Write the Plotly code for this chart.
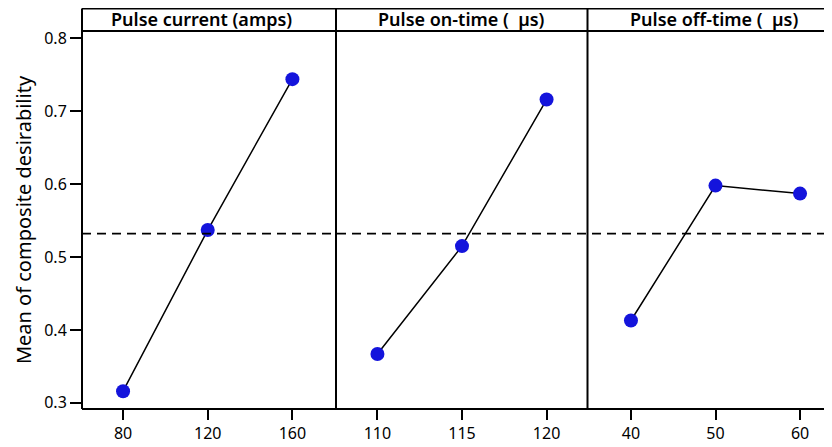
import plotly.graph_objects as go

# Data
factors = ["Pulse current (amps)", "Pulse on-time (  µs)", "Pulse off-time (  µs)"]
levels_current = [80, 120, 160]
means_current = [0.316, 0.537, 0.744]
levels_on = [110, 115, 120]
means_on = [0.367, 0.515, 0.716]
levels_off = [40, 50, 60]
means_off = [0.413, 0.598, 0.587]
overall_mean = 0.532
y_ticks = [0.3, 0.4, 0.5, 0.6, 0.7, 0.8]

# page body has an 8px margin, so the figure is 8px smaller and everything shifted
OFF = 8
W, H = 832 - OFF, 447 - OFF
ML, MR, MT, MB = 82 - OFF, 0, 31 - OFF, 447 - 409
pw = W - ML - MR
ph = H - MT - MB

d1 = (336 - 82) / pw
d2 = (587.5 - 82) / pw
doms = [(0, d1), (d1, d2), (d2, 1.0)]
ranges = [(60.6, 180.6), (107.55, 122.42), (34.86, 63.78)]
series = [(levels_current, means_current), (levels_on, means_on), (levels_off, means_off)]
header_centers_px = [201.5, 461, 714]

font = "Noto Sans"
fig = go.Figure()
for i, (xs, ys) in enumerate(series):
    fig.add_trace(go.Scatter(
        x=xs, y=ys, mode="lines+markers",
        xaxis="x" if i == 0 else f"x{i+1}", yaxis="y",
        line=dict(color="black", width=1.5),
        marker=dict(color="#1414DC", size=14, line=dict(width=0)),
        showlegend=False, cliponaxis=False,
    ))

layout = dict(
    width=W, height=H,
    margin=dict(l=ML, r=MR, t=MT, b=MB),
    plot_bgcolor="white", paper_bgcolor="white",
    font=dict(family=font, color="black", size=16),
    yaxis=dict(range=[0.2916, 0.810], tickvals=y_ticks, ticktext=[f"{v:.1f}" for v in y_ticks],
               showgrid=False, zeroline=False, showline=False,
               ticks="outside", ticklen=11, tickwidth=2, tickcolor="black",
               tickfont=dict(size=16, family=font),
               title=dict(text="Mean of composite desirability", font=dict(size=20, family=font), standoff=7)),
)
for i in range(3):
    key = "xaxis" if i == 0 else f"xaxis{i+1}"
    layout[key] = dict(
        domain=list(doms[i]), range=list(ranges[i]), anchor="y",
        tickvals=series[i][0], ticktext=[str(v) for v in series[i][0]],
        showgrid=False, zeroline=False, showline=False,
        ticks="outside", ticklen=10, tickwidth=2, tickcolor="black",
        tickfont=dict(size=16, family=font),
    )
fig.update_layout(**layout)

top = 1 + (MT - 0.5) / ph
shapes = []
lw = 2
shapes.append(dict(type="line", xref="paper", yref="paper", x0=0, x1=0, y0=0, y1=top, line=dict(color="black", width=lw)))
shapes.append(dict(type="line", xref="paper", yref="paper", x0=0, x1=1, y0=0, y1=0, line=dict(color="black", width=lw)))
shapes.append(dict(type="line", xref="paper", yref="paper", x0=0, x1=1, y0=top, y1=top, line=dict(color="black", width=lw)))
shapes.append(dict(type="line", xref="paper", yref="paper", x0=0, x1=1, y0=1, y1=1, line=dict(color="black", width=lw)))
for d in (d1, d2):
    shapes.append(dict(type="line", xref="paper", yref="paper", x0=d, x1=d, y0=0, y1=top, line=dict(color="black", width=lw)))
shapes.append(dict(type="line", xref="paper", yref="y", x0=0, x1=1, y0=overall_mean, y1=overall_mean,
                   line=dict(color="black", width=1.8, dash="9px,6px")))
fig.update_layout(shapes=shapes)

mid_y = 1 + (31 - 19.5) / ph
for i, name in enumerate(factors):
    fig.add_annotation(text=name, xref="paper", yref="paper",
                       x=(header_centers_px[i] - 82) / pw,
                       y=mid_y, showarrow=False, xanchor="center", yanchor="middle",
                       font=dict(size=18, family=font, color="black", weight=600))

fig.write_html("out.html")
